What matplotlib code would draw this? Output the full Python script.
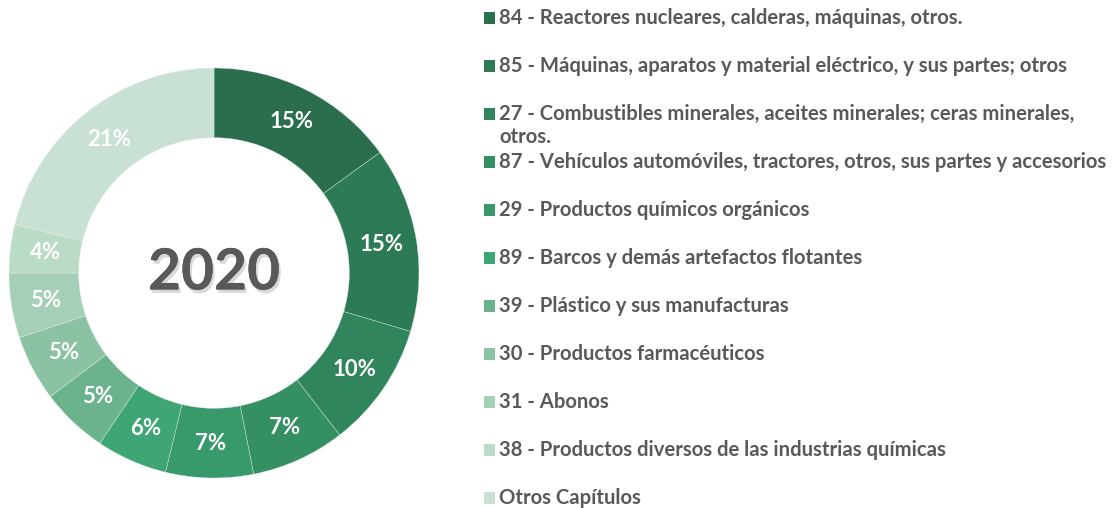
import matplotlib
matplotlib.use("Agg")
import matplotlib.pyplot as plt
import matplotlib.patheffects as pe
from matplotlib.patches import Rectangle

categories = [
    "84 - Reactores nucleares, calderas, máquinas, otros.",
    "85 - Máquinas, aparatos y material eléctrico, y sus partes; otros",
    "27 - Combustibles minerales, aceites minerales; ceras minerales,\notros.",
    "87 - Vehículos automóviles, tractores, otros, sus partes y accesorios",
    "29 - Productos químicos orgánicos",
    "89 - Barcos y demás artefactos flotantes",
    "39 - Plástico y sus manufacturas",
    "30 - Productos farmacéuticos",
    "31 - Abonos",
    "38 - Productos diversos de las industrias químicas",
    "Otros Capítulos",
]
values = [15.0, 14.6, 9.9, 7.4, 6.9, 5.6, 5.3, 5.2, 5.1, 3.8, 21.2]
colors = ["#2A6E4E", "#2D7A56", "#30855C", "#349063", "#389A6B", "#3EA574",
          "#6BB38D", "#8BC2A4", "#A5CFB7", "#B9DBC8", "#C9E1D4"]
center_label = "2020"

W, H = 1119, 508
fig = plt.figure(figsize=(W / 100, H / 100), dpi=100)
fig.patch.set_facecolor("white")

cx, cy, R = 214, 273, 205
ax = fig.add_axes([(cx - R) / W, (H - cy - R) / H, 2 * R / W, 2 * R / H])
wedges, texts, autotexts = ax.pie(
    values, colors=colors, startangle=90, counterclock=False,
    radius=1.0, wedgeprops=dict(width=0.34, edgecolor="#e8f2ec", linewidth=0.25),
    autopct=lambda p: f"{round(p):d}%", pctdistance=0.83,
    textprops=dict(color="white", fontsize=16, family="Lato", fontweight="bold"),
)
ax.set_xlim(-1, 1)
ax.set_ylim(-1, 1)
ax.set_aspect("auto")
ax.axis("off")

ax.text(0, 0, center_label, ha="center", va="center", fontsize=41,
        fontweight="bold", family="Lato", color="#595959",
        path_effects=[pe.withSimplePatchShadow(offset=(1.5, -2.5), shadow_rgbFace="#000000", alpha=0.15),
                      pe.Normal()])

# legend
x_sw, x_txt = 484, 499
y0, dy = 18, 48
for i, (cat, col) in enumerate(zip(categories, colors)):
    y = y0 + i * dy
    fig.patches.append(Rectangle((x_sw / W, 1 - (y + 6) / H), 11 / W, 12 / H,
                                 transform=fig.transFigure, facecolor=col,
                                 edgecolor="none"))
    lines = cat.split("\n")
    for j, ln in enumerate(lines):
        fig.text(x_txt / W, 1 - (y + j * 23) / H, ln, ha="left", va="center",
                 fontsize=14.6, family="Lato", fontweight="bold", color="#595959")

fig.savefig("out.png", dpi=100)
